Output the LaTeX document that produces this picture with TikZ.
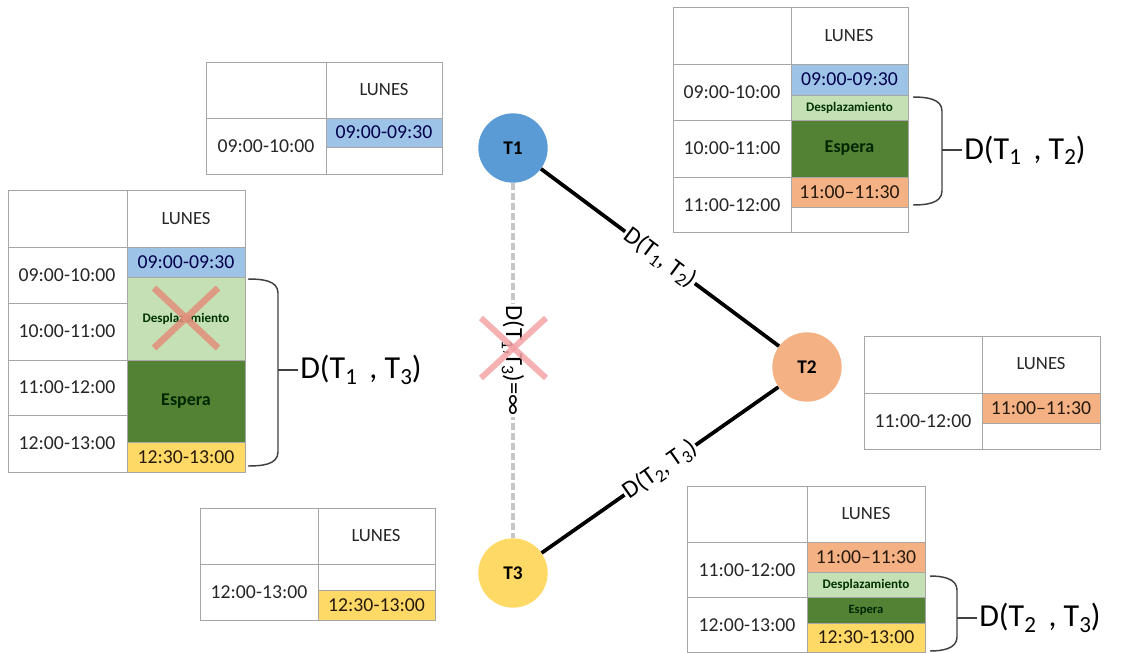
\documentclass[tikz,border=0pt]{standalone}
\usepackage{fontspec}
\setmainfont{Carlito}
\definecolor{gridc}{HTML}{A6A6A6}
\definecolor{tblue}{HTML}{5B9BD5}
\definecolor{torange}{HTML}{F4B183}
\definecolor{tyellow}{HTML}{FFD966}
\definecolor{bblue}{HTML}{9DC3E6}
\definecolor{bgreenl}{HTML}{C5E0B4}
\definecolor{bgreend}{HTML}{548235}
\definecolor{borange}{HTML}{F4B183}
\definecolor{byellow}{HTML}{FFD966}
\definecolor{bracec}{HTML}{404040}
\definecolor{crossc}{HTML}{F4A3A6}
\definecolor{crossl}{HTML}{E3907C}
\newcommand\sbs[1]{\raisebox{-0.35ex}{\scalebox{0.72}{#1}}}
% one timetable: outer frame, column divider, header line
\newcommand\tframe[6]{%
  \draw[gridline] (#1,#2) rectangle (#4,#6);
  \draw[gridline] (#3,#2) -- (#3,#6);
  \draw[gridline] (#1,#5) -- (#4,#5);}
% coloured block in the day column with its text
\newcommand\blk[8]{%
  \draw[gridline,fill=#5] (#1,#2) rectangle (#3,#4);
  \node[#6] (#7) at ({(#1+#3)/2},{(#2+#4)/2}) {#8};}
% bracket grouping blocks, with its label
\newcommand\bracket[7]{%
  \draw[bracketline] (#1,#2) to[out=0,in=90] (#3,#2+14) -- (#3,#4-14) to[out=-90,in=0] (#1,#4);
  \draw[bracketline] (#3,#5) -- (#3+20,#5);
  \node[biglabel,anchor=west] (#6) at (#3+22,#5) {#7};}
\tikzset{
  gridline/.style={draw=gridc,line width=0.75pt},
  timetxt/.style={font=\fontsize{14.8}{16}\selectfont,text=black!85},
  daytxt/.style={font=\fontsize{14}{16}\selectfont,text=black!85},
  slottxt/.style={font=\fontsize{14.8}{16}\selectfont,text=#1},
  desptxt/.style={font=\bfseries\fontsize{9.8}{11}\selectfont,text=black!80!green},
  esptxt/.style={font=\bfseries\fontsize{#1}{14}\selectfont,text=black!85!green},
  task/.style={circle,minimum size=52pt,inner sep=0pt,font=\bfseries\fontsize{14.5}{16}\selectfont},
  edgeline/.style={line width=2.8pt,black},
  nolink/.style={line width=2.6pt,draw=gray!45,dash pattern=on 5pt off 2.5pt},
  elabel/.style={fill=white,inner sep=1pt,font=\fontsize{18.5}{21}\selectfont},
  biglabel/.style={inner sep=0pt,font=\fontsize{24}{28}\selectfont},
  bracketline/.style={draw=bracec,line width=1.1pt},
}
\begin{document}
\begin{tikzpicture}[x=0.75pt,y=-0.75pt]
\useasboundingbox (0,0) rectangle (1121,653);

% ---- task nodes and links ----
\node[task,fill=tblue] (T1) at (513,148) {T1};
\node[task,fill=torange] (T2) at (807,367) {T2};
\node[task,fill=tyellow] (T3) at (513,573) {T3};

\draw[nolink] (T1) -- node[elabel,rotate=-90] (l13) {D(T\sbs{1},T\sbs{3})=∞} (T3);
\draw[edgeline] (T1) -- node[elabel,sloped] (l12) {D(T\sbs{1}, T\sbs{2})} (T2);
\draw[edgeline] (T2) -- node[elabel,sloped] (l23) {D(T\sbs{2}, T\sbs{3})} (T3);

% crossed-out link
\draw[crossc,opacity=0.85,line width=4.5pt] (481,318) -- (546,378);
\draw[crossc,opacity=0.85,line width=4.5pt] (481,378) -- (546,318);

% ---- T1 alone (top left) ----
\tframe{206}{62}{326}{442}{118}{174}
\node[daytxt] (h1) at (384,90) {LUNES};
\node[timetxt] (r1a) at (266,146) {09:00-10:00};
\blk{326}{118}{442}{147}{bblue}{slottxt=black!70!blue}{s1a}{09:00-09:30}

% ---- T3 alone (bottom left) ----
\tframe{200}{508}{318}{435}{564}{620}
\node[daytxt] (h3) at (376,536) {LUNES};
\node[timetxt] (r3a) at (259,592) {12:00-13:00};
\blk{318}{590}{435}{620}{byellow}{slottxt=black!80!brown}{s3a}{12:30-13:00}

% ---- T2 alone (middle right) ----
\tframe{864}{336}{982}{1100}{393}{449}
\node[daytxt] (h2) at (1041,364) {LUNES};
\node[timetxt] (r2a) at (923,421) {11:00-12:00};
\blk{982}{393}{1100}{423}{borange}{slottxt=black!80!brown}{s2a}{11:00–11:30}

% ---- T1 then T3 (left) ----
\tframe{8}{190}{127}{245}{247}{472}
\draw[gridline] (8,303) -- (127,303);
\draw[gridline] (8,360) -- (127,360);
\draw[gridline] (8,415) -- (127,415);
\node[daytxt] (h13) at (186,219) {LUNES};
\node[timetxt] (r13a) at (67,275) {09:00-10:00};
\node[timetxt] (r13b) at (67,331) {10:00-11:00};
\node[timetxt] (r13c) at (67,387) {11:00-12:00};
\node[timetxt] (r13d) at (67,443) {12:00-13:00};
\blk{127}{247}{245}{277}{bblue}{slottxt=black!70!blue}{s13a}{09:00-09:30}
\blk{127}{277}{245}{360}{bgreenl}{desptxt}{s13b}{Desplazamiento}
\blk{127}{360}{245}{442}{bgreend}{esptxt=13.5}{s13c}{Espera}
\blk{127}{442}{245}{472}{byellow}{slottxt=black!80!brown}{s13d}{12:30-13:00}
\draw[crossl,opacity=0.85,line width=5pt] (154,288) -- (218,348);
\draw[crossl,opacity=0.85,line width=5pt] (154,348) -- (218,288);
\bracket{248}{279}{278}{466}{370}{d13}{D(T\sbs{1}\, , T\sbs{3})}

% ---- T1 then T2 (top right) ----
\tframe{673}{7}{791}{908}{64}{232}
\draw[gridline] (673,120) -- (791,120);
\draw[gridline] (673,177) -- (791,177);
\node[daytxt] (h12) at (849,36) {LUNES};
\node[timetxt] (r12a) at (732,92) {09:00-10:00};
\node[timetxt] (r12b) at (732,148) {10:00-11:00};
\node[timetxt] (r12c) at (732,205) {11:00-12:00};
\blk{791}{64}{908}{95}{bblue}{slottxt=black!70!blue}{s12a}{09:00-09:30}
\blk{791}{95}{908}{120}{bgreenl}{desptxt}{s12b}{Desplazamiento}
\blk{791}{120}{908}{177}{bgreend}{esptxt=13.5}{s12c}{Espera}
\blk{791}{177}{908}{207}{borange}{slottxt=black!80!brown}{s12d}{11:00–11:30}
\bracket{913}{97}{942}{205}{150}{d12}{D(T\sbs{1}\, , T\sbs{2})}

% ---- T2 then T3 (bottom right) ----
\tframe{687}{486}{807}{925}{542}{652}
\draw[gridline] (687,597) -- (807,597);
\node[daytxt] (h23) at (866,514) {LUNES};
\node[timetxt] (r23a) at (747,570) {11:00-12:00};
\node[timetxt] (r23b) at (747,625) {12:00-13:00};
\blk{807}{542}{925}{572}{borange}{slottxt=black!80!brown}{s23a}{11:00–11:30}
\blk{807}{572}{925}{597}{bgreenl}{desptxt}{s23b}{Desplazamiento}
\blk{807}{597}{925}{623}{bgreend}{esptxt=9.5}{s23c}{Espera}
\blk{807}{623}{925}{652}{byellow}{slottxt=black!80!brown}{s23d}{12:30-13:00}
\bracket{930}{576}{957}{651}{618}{d23}{D(T\sbs{2}\, , T\sbs{3})}
\end{tikzpicture}
\end{document}
